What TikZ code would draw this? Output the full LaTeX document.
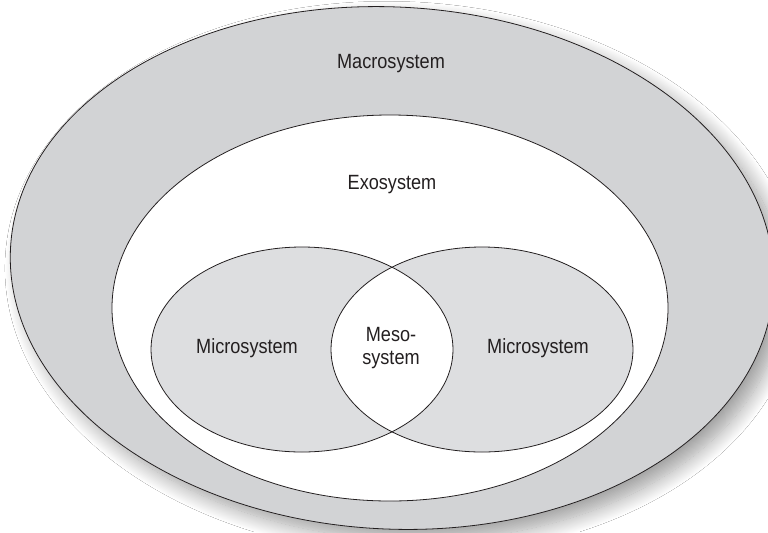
\documentclass[tikz,border=0pt]{standalone}
\usepackage{fontspec}
\setmainfont{Liberation Sans}[FakeStretch=0.88]
\usetikzlibrary{shadows.blur}
\definecolor{macrogrey}{RGB}{210,211,213}
\definecolor{microgrey}{RGB}{221,222,224}
\definecolor{inkgrey}{RGB}{35,31,32}

\begin{document}
\begin{tikzpicture}[x=0.02646cm,y=-0.02646cm,
  ring/.style={draw=inkgrey,line width=0.6pt},
  sysname/.style={text=inkgrey,font=\fontsize{15.5}{18}\selectfont,align=center,inner sep=0pt}]
        \useasboundingbox (0,0) rectangle (768,532);
        \fill[white] (0,0) rectangle (768,532);
        \draw[ring,fill=macrogrey,rotate around={-3:(392,268)},blur shadow={shadow xshift=8pt,shadow yshift=-8pt,shadow blur radius=12pt,shadow blur steps=24,shadow opacity=38}] (392,268) ellipse [x radius=382,y radius=261];
        \draw[ring,fill=white] (390,308) ellipse [x radius=278,y radius=193];
        \fill[microgrey] (302,349.5) ellipse [x radius=151,y radius=102.5];
        \fill[microgrey] (482,349.5) ellipse [x radius=151,y radius=102.5];
        \begin{scope}
        \clip (302,349.5) ellipse [x radius=151,y radius=102.5];
        \fill[white] (482,349.5) ellipse [x radius=151,y radius=102.5];
        \end{scope}
        \draw[ring] (302,349.5) ellipse [x radius=151,y radius=102.5];
        \draw[ring] (482,349.5) ellipse [x radius=151,y radius=102.5];
        \node[sysname,anchor=base](macro) at (391,68) {Macrosystem};
        \node[sysname,anchor=base](exo) at (392,189) {Exosystem};
        \node[sysname,anchor=base](microleft) at (247,353) {Microsystem};
        \node[sysname,anchor=base](microright) at (538,353) {Microsystem};
        \node[sysname](meso) at (391,348) {Meso-\\system};
        \end{tikzpicture}
\end{document}
